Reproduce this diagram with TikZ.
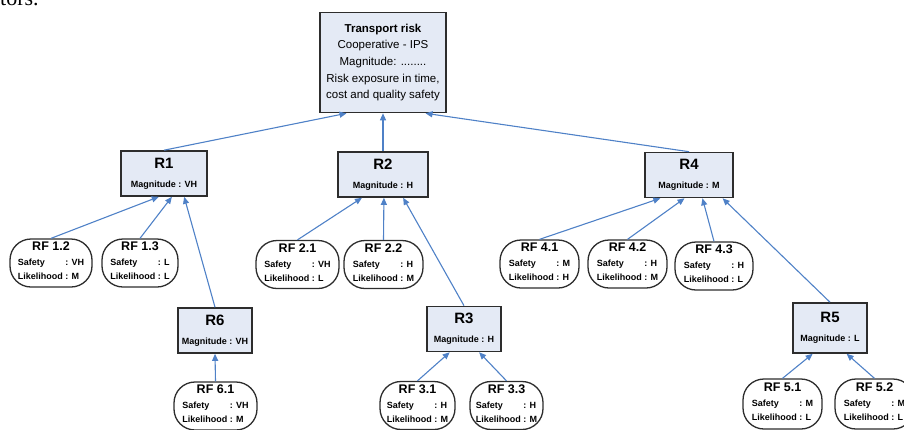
\documentclass[tikz,border=0pt]{standalone}
\usepackage{fontspec}
\setmainfont{Liberation Sans}
\newfontfamily\pagefont{Liberation Serif}
\usetikzlibrary{arrows.meta,calc}

\definecolor{boxfill}{RGB}{228,234,245}
\definecolor{boxline}{RGB}{45,45,45}
\definecolor{linkblue}{RGB}{79,129,199}

\tikzset{
  riskbox/.style={draw=boxline, line width=1.6pt, fill=boxfill, align=center,
    inner sep=0pt, minimum height=45pt, font=\bfseries\fontsize{9}{11}\selectfont},
  factor/.style={draw=boxline, line width=1.3pt, fill=white, rounded corners=21pt,
    align=center, inner sep=0pt, minimum height=48pt,
    font=\bfseries\fontsize{9}{14}\selectfont},
  link/.style={draw=linkblue, line width=1.1pt, -{Triangle[length=7pt,width=6pt]}},
}

\begin{document}
\begin{tikzpicture}[x=1pt, y=-1pt]
  \useasboundingbox (0,0) rectangle (904,429);
  \clip (0,0) rectangle (904,429);

  \node[anchor=base west, inner sep=0pt, font=\pagefont\fontsize{22}{22}\selectfont] (tail) at (0,5) {tors.};

  \node[draw=boxline, line width=1.6pt, fill=boxfill, align=center, inner sep=0pt,
        minimum width=126pt, minimum height=100pt, font=\fontsize{11.5}{16.7}\selectfont]
        (top) at (383,62.5)
        {\textbf{Transport risk}\\Cooperative - IPS\\Magnitude: ........\\Risk exposure in time,\\cost and quality safety};

  \node[riskbox, minimum width=86pt] (r1) at (164,173.5) {{\fontsize{15}{15}\selectfont R1}\\[8pt]Magnitude : VH};
  \node[riskbox, minimum width=90pt] (r2) at (383,174.5) {{\fontsize{15}{15}\selectfont R2}\\[8pt]Magnitude : H};
  \node[riskbox, minimum width=88pt] (r4) at (689,175)   {{\fontsize{15}{15}\selectfont R4}\\[8pt]Magnitude : M};
  \node[riskbox, minimum width=74pt] (r6) at (215,330.5) {{\fontsize{15}{15}\selectfont R6}\\[8pt]Magnitude : VH};
  \node[riskbox, minimum width=74pt] (r3) at (464,329)   {{\fontsize{15}{15}\selectfont R3}\\[8pt]Magnitude : H};
  \node[riskbox, minimum width=74pt, minimum height=50pt] (r5) at (830,328) {{\fontsize{15}{15}\selectfont R5}\\[8pt]Magnitude : L};

  \node[factor, minimum width=82pt] (rf12) at (51,263)
    {{\fontsize{12.5}{14}\selectfont RF 1.2}\\[1pt]\begin{tabular}[t]{@{}l@{ }l@{}}Safety & : VH\\Likelihood & : M\end{tabular}};
  \node[factor, minimum width=76pt] (rf13) at (140,263)
    {{\fontsize{12.5}{14}\selectfont RF 1.3}\\[1pt]\begin{tabular}[t]{@{}l@{ }l@{}}Safety & : L\\Likelihood & : L\end{tabular}};
  \node[factor, minimum width=83pt] (rf61) at (215.5,406)
    {{\fontsize{12.5}{14}\selectfont RF 6.1}\\[1pt]\begin{tabular}[t]{@{}l@{ }l@{}}Safety & : VH\\Likelihood & : M\end{tabular}};
  \node[factor, minimum width=83pt] (rf21) at (297.5,264.5)
    {{\fontsize{12.5}{14}\selectfont RF 2.1}\\[1pt]\begin{tabular}[t]{@{}l@{ }l@{}}Safety & : VH\\Likelihood & : L\end{tabular}};
  \node[factor, minimum width=79pt] (rf22) at (383.5,264.5)
    {{\fontsize{12.5}{14}\selectfont RF 2.2}\\[1pt]\begin{tabular}[t]{@{}l@{ }l@{}}Safety & : H\\Likelihood & : M\end{tabular}};
  \node[factor, minimum width=75pt] (rf31) at (417.5,405.5)
    {{\fontsize{12.5}{14}\selectfont RF 3.1}\\[1pt]\begin{tabular}[t]{@{}l@{ }l@{}}Safety & : H\\Likelihood & : M\end{tabular}};
  \node[factor, minimum width=73pt] (rf33) at (506.5,405.5)
    {{\fontsize{12.5}{14}\selectfont RF 3.3}\\[1pt]\begin{tabular}[t]{@{}l@{ }l@{}}Safety & : H\\Likelihood & : M\end{tabular}};
  \node[factor, minimum width=79pt] (rf41) at (539.5,264)
    {{\fontsize{12.5}{14}\selectfont RF 4.1}\\[1pt]\begin{tabular}[t]{@{}l@{ }l@{}}Safety & : M\\Likelihood & : H\end{tabular}};
  \node[factor, minimum width=79pt] (rf42) at (627.5,264)
    {{\fontsize{12.5}{14}\selectfont RF 4.2}\\[1pt]\begin{tabular}[t]{@{}l@{ }l@{}}Safety & : H\\Likelihood & : M\end{tabular}};
  \node[factor, minimum width=78pt] (rf43) at (714,266)
    {{\fontsize{12.5}{14}\selectfont RF 4.3}\\[1pt]\begin{tabular}[t]{@{}l@{ }l@{}}Safety & : H\\Likelihood & : L\end{tabular}};
  \node[factor, minimum width=79pt, minimum height=50pt] (rf51) at (782.5,404)
    {{\fontsize{12.5}{14}\selectfont RF 5.1}\\[1pt]\begin{tabular}[t]{@{}l@{ }l@{}}Safety & : M\\Likelihood & : L\end{tabular}};
  \node[factor, minimum width=79pt, minimum height=50pt] (rf52) at (874.5,404)
    {{\fontsize{12.5}{14}\selectfont RF 5.2}\\[1pt]\begin{tabular}[t]{@{}l@{ }l@{}}Safety & : M\\Likelihood & : L\end{tabular}};

  \draw[link] (r1.north) -- ($(top.south west)!0.214!(top.south east)$);
  \draw[link] (r2.north) -- (top.south);
  \draw[link] (r4.north) -- ($(top.south west)!0.833!(top.south east)$);

  \draw[link] (rf12.north) -- ($(r1.south west)!0.44!(r1.south east)$);
  \draw[link] (rf13.north) -- ($(r1.south west)!0.59!(r1.south east)$);
  \draw[link] (r6.north) -- ($(r1.south west)!0.73!(r1.south east)$);
  \draw[link] (rf61.north) -- (r6.south);

  \draw[link] (rf21.north) -- ($(r2.south west)!0.27!(r2.south east)$);
  \draw[link] (rf22.north) -- ($(r2.south west)!0.51!(r2.south east)$);
  \draw[link] (r3.north) -- ($(r2.south west)!0.72!(r2.south east)$);
  \draw[link] (rf31.north) -- ($(r3.south west)!0.31!(r3.south east)$);
  \draw[link] (rf33.north) -- ($(r3.south west)!0.70!(r3.south east)$);

  \draw[link] (rf41.north) -- ($(r4.south west)!0.18!(r4.south east)$);
  \draw[link] (rf42.north) -- ($(r4.south west)!0.45!(r4.south east)$);
  \draw[link] (rf43.north) -- ($(r4.south west)!0.65!(r4.south east)$);
  \draw[link] (r5.north) -- ($(r4.south west)!0.875!(r4.south east)$);
  \draw[link] (rf51.north) -- ($(r5.south west)!0.27!(r5.south east)$);
  \draw[link] (rf52.north) -- ($(r5.south west)!0.72!(r5.south east)$);
\end{tikzpicture}
\end{document}
